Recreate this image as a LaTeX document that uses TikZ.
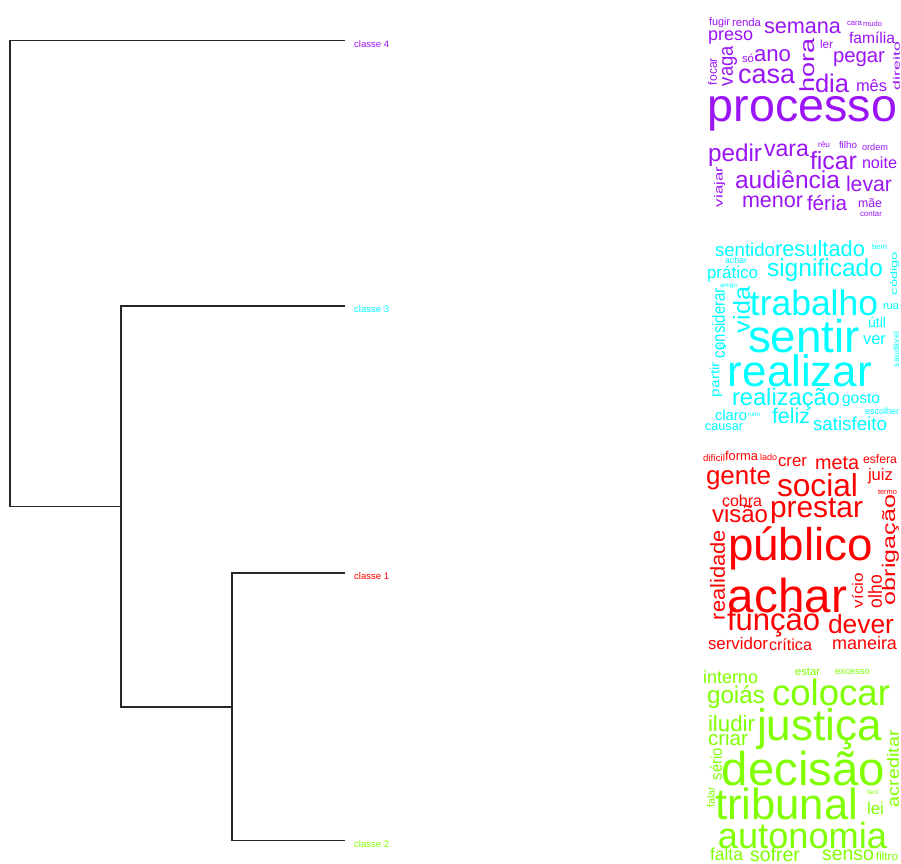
\documentclass[tikz,border=0pt]{standalone}
\usepackage{fontspec}
\setmainfont{Liberation Sans}
\usepackage{graphicx}
\definecolor{cfour}{RGB}{155,20,245}
\definecolor{cthree}{RGB}{0,255,255}
\definecolor{cone}{RGB}{255,0,0}
\definecolor{ctwo}{RGB}{127,255,0}
\newcounter{wcn}
\tikzset{
  wcword/.style={inner sep=0pt, outer sep=0pt, anchor=center},
  dendro/.style={line width=1.6pt, draw=black!85},
  leaflab/.style={anchor=west, inner sep=0pt, font=\fontsize{9.5}{10}\selectfont}
}
% horizontal word: x1 y1 x2 y2 word (scaled uniformly to the width)
\newcommand\wh[5]{%
  \stepcounter{wcn}%
  \pgfmathsetmacro\wcw{#3-#1}%
  \node[wcword] (w\arabic{wcn}) at ({(#1+#3)/2},{(#2+#4)/2}) {\resizebox{\wcw pt}{!}{#5}};}
% vertical word (reads upward): x1 y1 x2 y2 word (fitted to the box)
\newcommand\wv[5]{%
  \stepcounter{wcn}%
  \pgfmathsetmacro\wcw{#3-#1}\pgfmathsetmacro\wch{#4-#2}%
  \node[wcword, rotate=90] (w\arabic{wcn}) at ({(#1+#3)/2},{(#2+#4)/2}) {\resizebox*{\wch pt}{\wcw pt}{#5}};}
\begin{document}
\begin{tikzpicture}[x=1pt,y=-1pt]
\fill[white] (0,0) rectangle (901,863);
\useasboundingbox (0,0) rectangle (901,863);

% dendrogram
\coordinate (n0) at (10,506.5);
\coordinate (n1) at (121,506.5);
\coordinate (n1b) at (121,706.75);
\coordinate (n2) at (232,706.75);
\coordinate (n2b) at (232,840.5);
\coordinate (e4) at (345,40.5);
\coordinate (e3) at (345,306);
\coordinate (e1) at (345,573);
\coordinate (e2) at (345,840.5);
\draw[dendro] (e4) -| (n0) -- (n1);
\draw[dendro] (e3) -| (n1b) -- (n2);
\draw[dendro] (e1) -| (n2b) -- (e2);
\node[leaflab, text=cfour] (l4) at (354,44) {classe 4};
\node[leaflab, text=cthree] (l3) at (354,309.5) {classe 3};
\node[leaflab, text=cone] (l1) at (354,576.5) {classe 1};
\node[leaflab, text=ctwo] (l2) at (354,844) {classe 2};

% cluster 4
\begin{scope}[text=cfour]
\wh{709}{19}{730}{26}{fugir}
\wh{732}{19}{761}{25}{renda}
\wh{764}{21}{841}{34}{semana}
\wh{847}{21}{862}{26}{cara}
\wh{863}{21}{882}{27}{mudo}
\wh{708}{31}{753}{44}{preso}
\wh{849}{32}{895}{44}{família}
\wv{800}{38}{815}{92}{hora}
\wh{820}{41}{833}{48}{ler}
\wv{893}{42}{900}{90}{direito}
\wv{722}{46}{737}{86}{vaga}
\wv{708}{58}{717}{85}{focar}
\wh{742}{53}{754}{63}{só}
\wh{754}{49}{791}{63}{ano}
\wh{833}{49}{885}{70}{pegar}
\wh{738}{67}{795}{85}{casa}
\wh{815}{73}{849}{93}{dia}
\wh{856}{78}{887}{93}{mês}
\wh{708}{95}{897}{132}{processo}
\wh{708}{146}{762}{164}{pedir}
\wh{764}{142}{809}{159}{vara}
\wh{818}{142}{830}{147}{réu}
\wh{839}{142}{857}{147}{filho}
\wh{862}{142}{888}{152}{ordem}
\wh{810}{150}{857}{172}{ficar}
\wh{862}{157}{897}{169}{noite}
\wv{714}{167}{725}{207}{viajar}
\wh{735}{168}{840}{192}{audiência}
\wh{846}{175}{892}{192}{levar}
\wh{742}{193}{803}{210}{menor}
\wh{807}{193}{847}{213}{féria}
\wh{858}{197}{882}{210}{mãe}
\wh{860}{211}{882}{216}{contar}
\end{scope}

% cluster 3
\begin{scope}[text=cthree]
\wh{715}{242}{775}{257}{sentido}
\wh{775}{240}{865}{258}{resultado}
\wh{872}{242}{887}{251}{bem}
\wh{725}{257}{747}{263}{achar}
\wv{890}{252}{899}{295}{código}
\wh{707}{267}{758}{280}{prático}
\wh{767}{260}{883}{280}{significado}
\wh{720}{284}{737}{288}{amigo}
\wv{712}{288}{725}{358}{considerar}
\wv{733}{287}{750}{333}{vida}
\wh{750}{288}{878}{317}{trabalho}
\wh{883}{302}{899}{312}{rua}
\wh{748}{318}{860}{355}{sentir}
\wh{868}{315}{886}{330}{útil}
\wh{863}{335}{886}{345}{ver}
\wv{893}{332}{899}{367}{saudável}
\wh{717}{345}{727}{350}{dor}
\wv{710}{362}{722}{397}{partir}
\wh{728}{355}{872}{387}{realizar}
\wh{732}{387}{840}{412}{realização}
\wh{842}{392}{880}{408}{gosto}
\wh{715}{408}{747}{422}{claro}
\wh{748}{412}{760}{417}{ruim}
\wh{772}{405}{810}{427}{feliz}
\wh{813}{417}{887}{430}{satisfeito}
\wh{865}{408}{899}{415}{escolher}
\wh{705}{423}{743}{432}{causar}
\end{scope}

% cluster 1
\begin{scope}[text=cone]
\wh{703}{453}{725}{462}{difícil}
\wh{725}{451}{758}{461}{forma}
\wh{760}{453}{777}{461}{lado}
\wh{778}{457}{807}{467}{crer}
\wh{815}{455}{859}{472}{meta}
\wh{863}{455}{897}{463}{esfera}
\wh{706}{470}{771}{488}{gente}
\wh{777}{475}{858}{495}{social}
\wh{868}{467}{893}{485}{juiz}
\wh{878}{490}{897}{495}{termo}
\wh{722}{495}{762}{507}{cobra}
\wh{712}{505}{768}{523}{visão}
\wh{770}{498}{863}{523}{prestar}
\wv{882}{495}{899}{605}{obrigação}
\wv{710}{530}{725}{620}{realidade}
\wh{728}{528}{873}{568}{público}
\wh{728}{577}{847}{613}{achar}
\wv{852}{573}{863}{608}{vício}
\wv{868}{575}{882}{608}{olho}
\wh{727}{608}{820}{638}{função}
\wh{828}{613}{894}{635}{dever}
\wh{708}{637}{768}{650}{servidor}
\wh{769}{638}{812}{652}{crítica}
\wh{832}{637}{897}{650}{maneira}
\end{scope}

% cluster 2
\begin{scope}[text=ctwo]
\wh{703}{672}{758}{683}{interno}
\wh{795}{668}{820}{675}{estar}
\wh{835}{668}{870}{675}{excesso}
\wh{707}{688}{765}{707}{goiás}
\wh{772}{680}{890}{705}{colocar}
\wh{708}{715}{755}{732}{iludir}
\wh{757}{710}{882}{748}{justiça}
\wh{708}{732}{748}{745}{criar}
\wv{887}{730}{899}{807}{acreditar}
\wv{710}{748}{722}{780}{sério}
\wv{707}{787}{715}{807}{falar}
\wh{722}{752}{885}{785}{decisão}
\wh{867}{788}{878}{797}{fácil}
\wh{715}{788}{858}{820}{tribunal}
\wh{867}{800}{884}{817}{lei}
\wh{718}{825}{887}{847}{autonomia}
\wh{710}{848}{743}{860}{falta}
\wh{750}{848}{800}{860}{sofrer}
\wh{822}{850}{874}{860}{senso}
\wh{876}{852}{898}{860}{filtro}
\end{scope}
\end{tikzpicture}
\end{document}
